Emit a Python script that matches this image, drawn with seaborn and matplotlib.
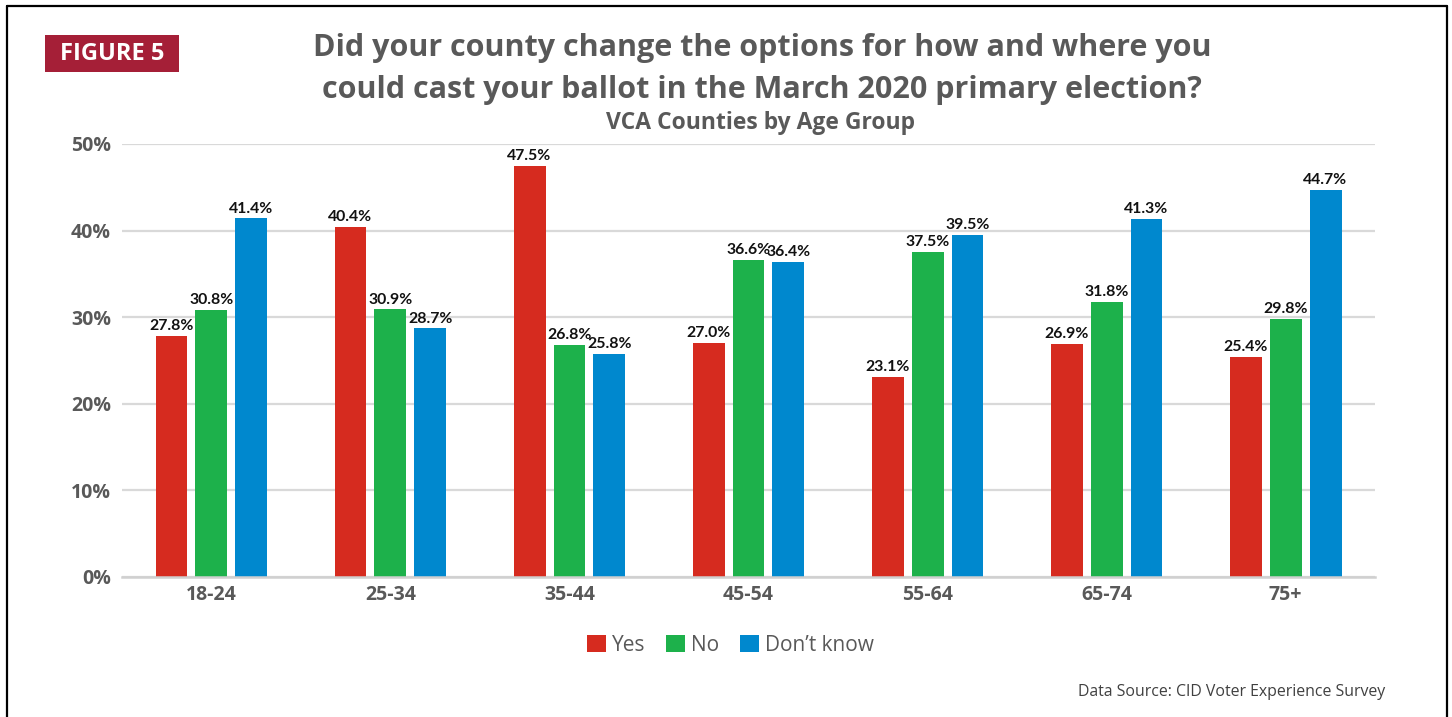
import matplotlib
matplotlib.use("Agg")
import matplotlib.pyplot as plt
from matplotlib.patches import Rectangle, Patch
from matplotlib.lines import Line2D
import seaborn as sns
import pandas as pd

age_groups = ["18-24", "25-34", "35-44", "45-54", "55-64", "65-74", "75+"]
responses = ["Yes", "No", "Don\u2019t know"]
yes_vals = [27.8, 40.4, 47.5, 27.0, 23.1, 26.9, 25.4]
no_vals = [30.8, 30.9, 26.8, 36.6, 37.5, 31.8, 29.8]
dk_vals = [41.4, 28.7, 25.8, 36.4, 39.5, 41.3, 44.7]
y_ticks = [0, 10, 20, 30, 40, 50]
colors = ["#D62B1F", "#1DB14B", "#0088CE"]

rows = []
for resp, vals in zip(responses, [yes_vals, no_vals, dk_vals]):
    for a, v in zip(age_groups, vals):
        rows.append({"age": a, "resp": resp, "pct": v})
df = pd.DataFrame(rows)

sns.set_theme(style="white")
plt.rcParams["font.family"] = ["Open Sans", "DejaVu Sans"]

fig = plt.figure(figsize=(14.52, 7.17), dpi=100)
ax = fig.add_axes([0.084, 0.1953, 0.863, 0.604])

sns.barplot(data=df, x="age", y="pct", hue="resp", order=age_groups,
            hue_order=responses, palette=colors, width=0.67, ax=ax,
            saturation=1, errorbar=None, legend=False)

# narrow each bar within its slot to leave gaps
for p in ax.patches:
    w = p.get_width()
    nw = w * 0.80
    p.set_x(p.get_x() + (w - nw) / 2)
    p.set_width(nw)
    p.set_edgecolor("none")

for cont, resp in zip(ax.containers, responses):
    ax.bar_label(cont, labels=[f"{v:.1f}%" for v in cont.datavalues],
                 padding=2, fontsize=11.4, fontweight="bold", color="#111111",
                 family=["Lato", "DejaVu Sans"])

ax.set_ylim(0, 50)
ax.set_xlim(-0.5, len(age_groups) - 0.5)
ax.set_yticks(y_ticks)
ax.set_yticklabels([f"{t}%" for t in y_ticks])
ax.yaxis.grid(True, color="#d9d9d9", linewidth=1.6)
ax.set_axisbelow(True)
for s in ["top", "right", "left"]:
    ax.spines[s].set_visible(False)
ax.spines["bottom"].set_color("#d0d0d0")
ax.spines["bottom"].set_linewidth(1.8)
ax.tick_params(axis="both", length=0, labelsize=14, labelcolor="#595959")
ax.tick_params(axis="y", pad=8)
ax.tick_params(axis="x", pad=6)
for lab in ax.get_xticklabels() + ax.get_yticklabels():
    lab.set_fontweight("bold")
ax.set_xlabel("")
ax.set_ylabel("")

# legend
handles = [Patch(facecolor=c, edgecolor="none") for c in colors]
fig.legend(handles, responses, loc="center", bbox_to_anchor=(0.503, 0.1),
           ncol=3, frameon=False, fontsize=15, handlelength=0.9,
           handleheight=0.9, handletextpad=0.3, columnspacing=1.0,
           labelcolor="#595959")

# titles
fig.text(0.525, 0.933, "Did your county change the options for how and where you",
         ha="center", va="center", fontsize=22, fontweight="bold", color="#595959")
fig.text(0.525, 0.875, "could cast your ballot in the March 2020 primary election?",
         ha="center", va="center", fontsize=22, fontweight="bold", color="#595959")
fig.text(0.524, 0.828, "VCA Counties by Age Group",
         ha="center", va="center", fontsize=16.5, fontweight="bold", color="#595959")

# FIGURE 5 badge
fig.add_artist(Rectangle((45 / 1452, 1 - 72 / 717), 134 / 1452, 37 / 717,
                         transform=fig.transFigure, facecolor="#A51F37",
                         edgecolor="none"))
fig.text(112 / 1452, 1 - 54 / 717, "FIGURE 5", ha="center", va="center",
         fontsize=17, fontweight="bold", color="white")

# data source
fig.text(1385 / 1452, 1 - 692 / 717, "Data Source: CID Voter Experience Survey",
         ha="right", va="center", fontsize=11.4, color="#404040")

# frame
lx, rx, ty = 6.5 / 1452, 1446.5 / 1452, 1 - 5.5 / 717
fig.add_artist(Line2D([lx, lx], [0, ty], transform=fig.transFigure, color="black", lw=1.6))
fig.add_artist(Line2D([rx, rx], [0, ty], transform=fig.transFigure, color="black", lw=1.6))
fig.add_artist(Line2D([lx, rx], [ty, ty], transform=fig.transFigure, color="black", lw=1.6))

fig.savefig("out.png", dpi=100)
